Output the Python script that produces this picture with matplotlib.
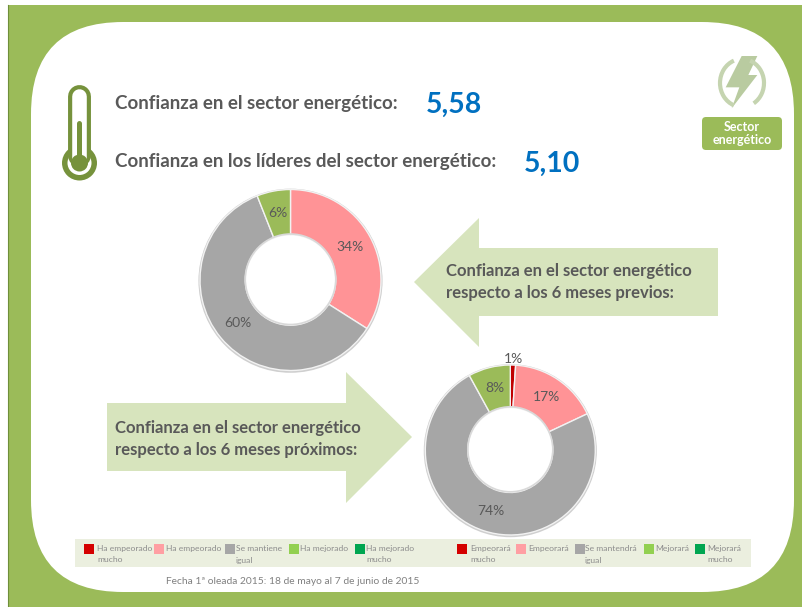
import matplotlib
matplotlib.use("Agg")
import matplotlib.pyplot as plt
from matplotlib.patches import Rectangle, FancyBboxPatch, Polygon, Circle, Arc
import numpy as np

W, H = 803, 607

plt.rcParams['font.family'] = ['Lato', 'DejaVu Sans']

DARK_RED = "#C00000"
PINK = "#FF9396"
GREY = "#A6A6A6"
GREEN = "#9BBB59"
DARK_GREEN = "#00A651"

# donut data
prev_values = [34, 60, 6]
prev_colors = [PINK, GREY, GREEN]
next_values = [1, 17, 74, 8]
next_colors = [DARK_RED, PINK, GREY, GREEN]

# legends
legend_prev = ["Ha empeorado\nmucho", "Ha empeorado", "Se mantiene\nigual", "Ha mejorado", "Ha mejorado\nmucho"]
legend_next = ["Empeorará\nmucho", "Empeorará", "Se mantendrá\nigual", "Mejorará", "Mejorará\nmucho"]
legend_colors = ["#D40000", "#FF9FA3", "#A6A6A6", "#92D050", DARK_GREEN]

# scores
score_sector = "5,58"
score_leaders = "5,10"

fig = plt.figure(figsize=(W / 100, H / 100), dpi=100, facecolor="white")
bg = fig.add_axes([0, 0, 1, 1])
bg.set_xlim(0, W)
bg.set_ylim(H, 0)
bg.axis("off")


def px_axes(cx, cy, r):
    ax = fig.add_axes([(cx - r) / W, 1 - (cy + r) / H, 2 * r / W, 2 * r / H])
    ax.set_zorder(3)
    return ax


def draw_donut(cx, cy, r, values, colors, label_dist):
    ax = px_axes(cx, cy, r + 3)
    lim = (r + 3) / r
    wedges, _ = ax.pie(values, colors=colors, startangle=90, counterclock=False, radius=1,
                       wedgeprops=dict(width=0.5, edgecolor="#F2F2F2", linewidth=1.0))
    ax.set_xlim(-lim, lim)
    ax.set_ylim(-lim, lim)
    ax.set_aspect("equal")
    # thin shadow round the ring
    ax.add_patch(Circle((0, -0.008), 1.005, fc="none", ec="#CFCFCF", lw=1.6, zorder=0))
    ax.add_patch(Circle((0, 0.008), 0.5, fc="none", ec="#D9D9D9", lw=1.2, zorder=5))
    for w, v, d in zip(wedges, values, label_dist):
        a = np.deg2rad((w.theta1 + w.theta2) / 2)
        ax.text(d * np.cos(a), d * np.sin(a), f"{v}%", ha="center", va="center",
                fontsize=10, color="#595959", clip_on=False)


# green frame and white panel
bg.add_patch(Rectangle((8, 5), W - 8, H - 5, fc="#9BBB59", ec="none"))
bg.plot([8, 8], [5, H], color="#6F8F3A", lw=0.8)
bg.add_patch(FancyBboxPatch((31 + 92, 22 + 92), 763 - 184, 570 - 184,
                            boxstyle="round,pad=92,rounding_size=92", fc="white", ec="none"))

# thermometer
TH = "#76923C"
bg.plot([79.5, 79.5], [96, 155], color=TH, lw=16.5, solid_capstyle="round")
bg.add_patch(Circle((79.5, 163), 17.5, fc=TH, ec="none"))
bg.add_patch(Circle((79.5, 163), 12, fc="white", ec="none"))
bg.plot([79.5, 79.5], [96, 160], color="white", lw=10.5, solid_capstyle="round")
bg.add_patch(Circle((79.5, 163), 8.5, fc=TH, ec="none", zorder=4))
bg.plot([79.5, 79.5], [123, 160], color=TH, lw=3.6, solid_capstyle="round", zorder=4)

# headline text
TXT = "#595959"
bg.text(115, 103, "Confianza en el sector energético:", fontsize=13.5, fontweight="bold", color=TXT, va="center")
bg.text(115, 161, "Confianza en los líderes del sector energético:", fontsize=13.5, fontweight="bold", color=TXT, va="center")
bg.text(426, 104.5, score_sector, fontsize=20.5, fontweight="bold", color="#0070C0", va="center")
bg.text(524, 163.5, score_leaders, fontsize=20.5, fontweight="bold", color="#0070C0", va="center")

# energy icon
BOLT = "#B9CBA0"
bolt = np.array([[185, 168], [232, 168], [205, 225], [232, 225], [155, 325], [178, 262], [137, 262]]) / 3 + [680, 0]
bg.add_patch(Polygon(bolt, fc=BOLT, ec="none"))
bg.add_patch(Arc((742, 83), 44, 48, theta1=110, theta2=250, ec="#C5D4B0", lw=3))
bg.add_patch(Arc((742, 83), 44, 48, theta1=-70, theta2=60, ec="#C5D4B0", lw=3))
bg.add_patch(FancyBboxPatch((705, 120), 74, 27, boxstyle="round,pad=3,rounding_size=4", fc="#9BBB59", ec="none"))
bg.text(742, 133.5, "Sector\nenergético", fontsize=9, fontweight="bold", color="white",
        ha="center", va="center", linespacing=1.15)

# arrows
ARROW = "#D7E4BD"
bg.add_patch(Polygon([(414, 282), (479, 218), (479, 248), (718, 248), (718, 316), (479, 316), (479, 347)],
                     fc=ARROW, ec="none"))
bg.add_patch(Polygon([(412, 437), (346, 372), (346, 403), (107, 403), (107, 471), (346, 471), (346, 503)],
                     fc=ARROW, ec="none"))
bg.text(446, 282, "Confianza en el sector energético\nrespecto a los 6 meses previos:", fontsize=12,
        fontweight="bold", color=TXT, va="center", linespacing=1.42)
bg.text(115, 439, "Confianza en el sector energético\nrespecto a los 6 meses próximos:", fontsize=12,
        fontweight="bold", color=TXT, va="center", linespacing=1.42)

# donuts
draw_donut(290.5, 280, 90.5, prev_values, prev_colors, [0.75, 0.75, 0.75])
draw_donut(510.3, 450, 85, next_values, next_colors, [1.07, 0.75, 0.75, 0.75])

# legend strip
bg.add_patch(Rectangle((75, 539), 676, 28, fc="#EBEFDF", ec="none"))
swatch_x = [84, 154, 225, 289, 355, 457, 516, 575, 644, 695]
text_x = [97, 166, 236, 300, 366, 470, 528, 585, 655, 707]
labels = legend_prev + legend_next
for sx, tx, lab, col in zip(swatch_x, text_x, labels, legend_colors * 2):
    bg.add_patch(Rectangle((sx, 544), 10, 10, fc=col, ec="none"))
    bg.text(tx, 545, lab, fontsize=6.1, color="#8C8C8C", va="top", linespacing=1.75)

bg.text(166, 581, "Fecha 1ª oleada 2015: 18 de mayo al 7 de junio de 2015", fontsize=7.4, color="#808080", va="center")

fig.savefig("out.png", dpi=100)
